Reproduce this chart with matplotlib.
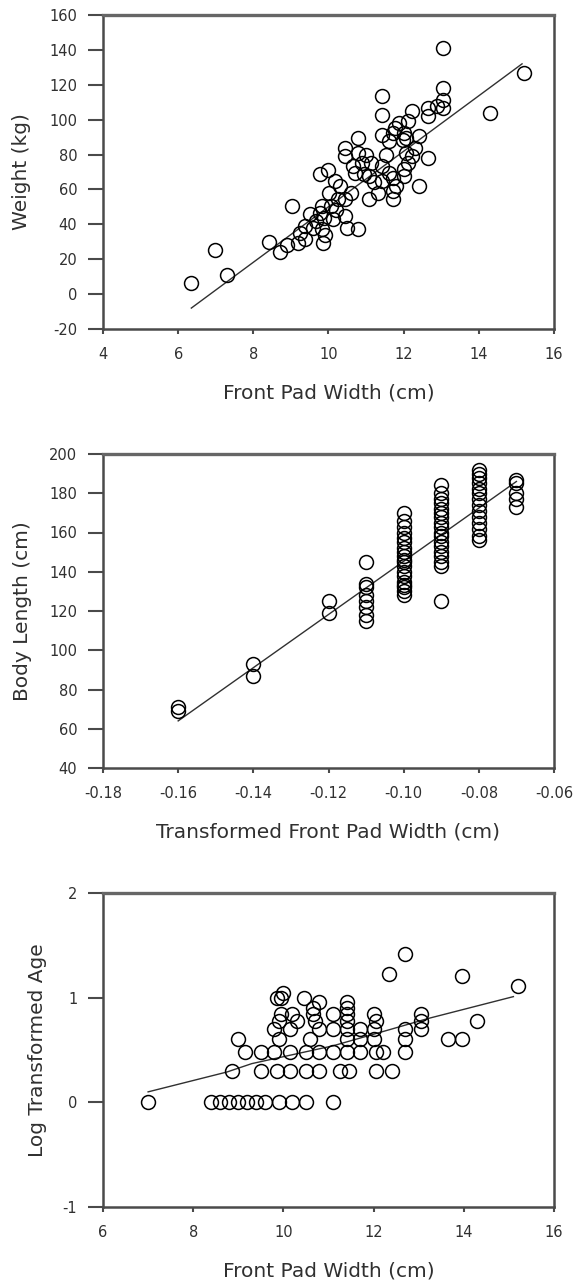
import matplotlib
matplotlib.use("Agg")
import matplotlib.pyplot as plt
import numpy as np

plt.rcParams['font.family'] = ['DejaVu Sans']
plt.rcParams['axes.unicode_minus'] = False

# ---------------- Panel 1: Weight vs Front Pad Width ----------------
p1_x = [6.33, 6.98, 7.29, 8.41, 8.71, 8.89, 9.03, 9.18, 9.38, 9.23, 9.38, 9.52, 9.67, 9.77,
        9.85, 9.82, 9.87, 9.82, 9.77, 9.98, 10.01, 10.06, 10.11, 10.18, 10.26, 10.45, 10.45,
        10.50, 10.79, 10.45, 10.45, 10.65, 10.70, 10.79, 10.79, 10.94, 11.09, 11.09, 11.14,
        11.43, 11.43, 11.43, 11.53, 11.43, 11.43, 11.33, 11.62, 11.72, 11.72, 11.72, 11.77,
        11.72, 11.87, 11.97, 12.02, 12.06, 12.11, 12.11, 12.02, 12.06, 12.21, 12.21, 12.40,
        12.40, 12.65, 12.65, 12.65, 12.90, 13.04, 13.04, 13.04, 13.04, 14.31, 15.19,
        10.30, 10.60, 11.20, 11.00, 10.90, 9.60, 9.90, 10.20, 11.60, 11.80, 12.30, 12.00]
p1_y = [6.1, 25.3, 10.9, 30.1, 24.4, 28.0, 50.5, 29.5, 31.4, 35.2, 39.0, 45.7, 41.9, 46.7,
        29.1, 37.1, 43.8, 50.5, 68.6, 71.4, 58.1, 50.5, 42.9, 64.8, 54.3, 54.3, 44.8,
        38.1, 37.1, 79.0, 83.8, 73.3, 69.5, 89.5, 81.0, 68.6, 67.6, 54.3, 75.2,
        113.3, 102.9, 91.4, 80.0, 73.3, 64.8, 58.1, 69.5, 54.3, 59.0, 66.7, 95.2,
        92.4, 98.1, 88.6, 92.4, 89.5, 99.0, 75.2, 67.6, 81.0, 104.8, 79.0, 90.5,
        61.9, 78.1, 106.7, 101.9, 107.6, 141.0, 118.1, 111.4, 106.7, 103.8, 126.7,
        62.0, 58.0, 64.0, 80.0, 75.0, 38.0, 34.0, 48.0, 88.0, 62.0, 84.0, 72.0]
p1_fit_x = [6.35, 15.15]
p1_fit_y = [-8.0, 132.0]
p1_xticks = [4, 6, 8, 10, 12, 14, 16]
p1_yticks = [-20, 0, 20, 40, 60, 80, 100, 120, 140, 160]

# ---------------- Panel 2: Body Length vs Transformed Front Pad Width ----------------
p2_groups = [-0.16, -0.14, -0.12, -0.11, -0.10, -0.09, -0.08, -0.07]
p2_values = [
    [71, 69],
    [93, 87],
    [125, 119],
    [145, 134, 132, 128, 125, 122, 118, 115],
    [170, 166, 163, 160, 157, 155, 152, 150, 148, 146, 145, 143, 140, 138, 135, 133, 132, 130, 128],
    [184, 180, 177, 175, 172, 170, 168, 165, 163, 160, 158, 155, 153, 150, 148, 145, 143, 125],
    [192, 190, 188, 185, 182, 180, 177, 174, 171, 168, 165, 162, 158, 156],
    [187, 185, 180, 177, 173],
]
p2_fit_x = [-0.16, -0.07]
p2_fit_y = [64.0, 186.0]
p2_xticks = [-0.18, -0.16, -0.14, -0.12, -0.10, -0.08, -0.06]
p2_yticks = [40, 60, 80, 100, 120, 140, 160, 180, 200]

# ---------------- Panel 3: Log Transformed Age vs Front Pad Width ----------------
p3_rows = {
    0.000: [7.0, 8.4, 8.6, 8.8, 9.0, 9.2, 9.4, 9.6, 9.9, 10.2, 10.5, 11.1],
    0.301: [8.85, 9.5, 9.85, 10.15, 10.5, 10.8, 11.25, 11.45, 12.05, 12.4],
    0.477: [9.15, 9.5, 9.8, 10.15, 10.5, 10.8, 11.1, 11.4, 11.7, 12.05, 12.2, 12.7],
    0.602: [9.0, 9.9, 10.6, 11.4, 11.7, 12.0, 12.7, 13.65, 13.95],
    0.699: [9.8, 10.15, 10.8, 11.1, 11.4, 11.7, 12.0, 12.7, 13.05],
    0.778: [9.9, 10.3, 10.7, 11.4, 12.05, 13.05, 14.3],
    0.845: [9.95, 10.2, 10.65, 11.1, 11.4, 12.0, 13.05],
    0.903: [10.65, 11.4],
    0.954: [10.8, 11.4],
    1.000: [9.85, 9.95, 10.45],
    1.041: [10.0],
    1.114: [15.2],
    1.204: [13.95],
    1.230: [12.35],
    1.415: [12.7],
}
p3_fit_x = [7.0, 8.75, 9.3, 11.1, 12.4, 13.2, 15.1]
p3_fit_y = [0.10, 0.29, 0.37, 0.54, 0.70, 0.80, 1.01]
p3_xticks = [6, 8, 10, 12, 14, 16]
p3_yticks = [-1, 0, 1, 2]

# ---------------- Figure ----------------
W, H = 576, 1285
fig = plt.figure(figsize=(W / 100, H / 100), dpi=100)

left_px, right_px = 103, 554
panels_px = [(15, 329), (454, 768), (893, 1207)]

spine_col = '#4a4a4a'
text_col = '#303030'
marker_kw = dict(marker='o', linestyle='none', markersize=10, markerfacecolor='none',
                 markeredgecolor='black', markeredgewidth=1.1)
line_kw = dict(color='#303030', linewidth=1.0)


def make_ax(top, bottom):
    ax = fig.add_axes([left_px / W, 1 - bottom / H, (right_px - left_px) / W, (bottom - top) / H])
    for s in ax.spines.values():
        s.set_color(spine_col)
        s.set_linewidth(1.8)
    ax.spines['top'].set_color('#666666')
    ax.spines['top'].set_linewidth(2.4)
    ax.tick_params(axis='y', direction='out', length=10.5, width=1.5, color=spine_col,
                   pad=8, labelsize=10.5, labelcolor=text_col)
    ax.tick_params(axis='x', direction='out', length=3.6, width=1.5, color=spine_col,
                   pad=9.5, labelsize=10.5, labelcolor=text_col)
    return ax


def set_labels(ax, xlabel, ylabel, ylab_x_px, top, bottom):
    h = bottom - top
    ax.set_xlabel(xlabel, fontsize=14.5, color=text_col)
    ax.xaxis.set_label_coords(0.5, -64 / h)
    ax.xaxis.label.set_va('center')
    ax.set_ylabel(ylabel, fontsize=14.5, color=text_col)
    ax.yaxis.set_label_coords((ylab_x_px - left_px) / (right_px - left_px), 0.5)
    ax.yaxis.label.set_va('center')


# Panel 1
t, b = panels_px[0]
ax1 = make_ax(t, b)
ax1.plot(p1_fit_x, p1_fit_y, **line_kw)
ax1.plot(p1_x, p1_y, **marker_kw)
ax1.set_xlim(4, 16)
ax1.set_ylim(-20, 160)
ax1.set_xticks(p1_xticks)
ax1.set_yticks(p1_yticks)
set_labels(ax1, 'Front Pad Width (cm)', 'Weight (kg)', 22, t, b)

# Panel 2
t, b = panels_px[1]
ax2 = make_ax(t, b)
ax2.plot(p2_fit_x, p2_fit_y, **line_kw)
for gx, vals in zip(p2_groups, p2_values):
    ax2.plot([gx] * len(vals), vals, **marker_kw)
ax2.set_xlim(-0.18, -0.06)
ax2.set_ylim(40, 200)
ax2.set_xticks(p2_xticks)
ax2.set_xticklabels(['%.2f' % v for v in p2_xticks])
ax2.set_yticks(p2_yticks)
set_labels(ax2, 'Transformed Front Pad Width (cm)', 'Body Length (cm)', 23, t, b)

# Panel 3
t, b = panels_px[2]
ax3 = make_ax(t, b)
ax3.plot(p3_fit_x, p3_fit_y, **line_kw)
for yv, xs in p3_rows.items():
    ax3.plot(xs, [yv] * len(xs), **marker_kw)
ax3.set_xlim(6, 16)
ax3.set_ylim(-1, 2)
ax3.set_xticks(p3_xticks)
ax3.set_yticks(p3_yticks)
set_labels(ax3, 'Front Pad Width (cm)', 'Log Transformed Age', 38, t, b)

fig.savefig('out.png', dpi=100)
